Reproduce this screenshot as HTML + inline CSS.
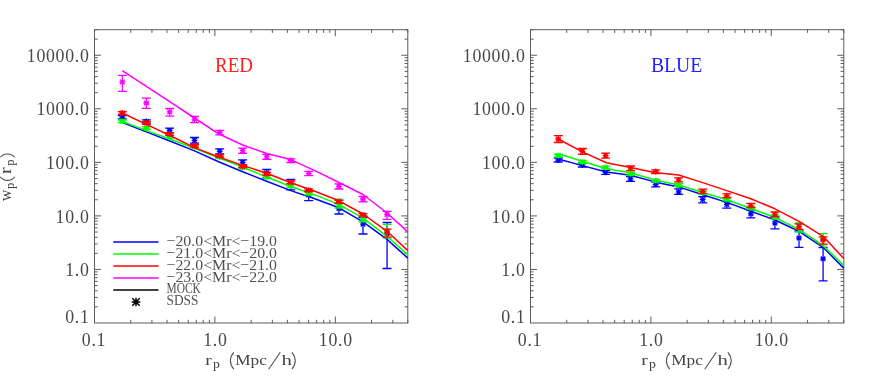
<!DOCTYPE html>
<html><head><meta charset="utf-8"><style>
html,body{margin:0;padding:0;background:#fff;}
svg{display:block;font-family:"Liberation Serif",serif;}
.tk{font-size:17.8px;fill:#484848;letter-spacing:0.7px;}
.ax{font-size:15.5px;fill:#444;}
.lg{font-size:15.5px;fill:#505050;}
.tt{font-size:20px;fill-opacity:0.88;}
</style></head><body>
<svg style="will-change:transform" width="872" height="383" viewBox="0 0 872 383">
<rect width="872" height="383" fill="#fff"/>
<rect x="94.50" y="29.70" width="313.29" height="293.30" fill="none" stroke="#5c5c5c" stroke-width="1"/>
<path d="M130.74 323.00v-3.2M130.74 29.70v3.2M151.95 323.00v-3.2M151.95 29.70v3.2M166.99 323.00v-3.2M166.99 29.70v3.2M178.66 323.00v-3.2M178.66 29.70v3.2M188.19 323.00v-3.2M188.19 29.70v3.2M196.25 323.00v-3.2M196.25 29.70v3.2M203.23 323.00v-3.2M203.23 29.70v3.2M209.39 323.00v-3.2M209.39 29.70v3.2M214.90 323.00v-6.5M214.90 29.70v6.5M251.14 323.00v-3.2M251.14 29.70v3.2M272.35 323.00v-3.2M272.35 29.70v3.2M287.39 323.00v-3.2M287.39 29.70v3.2M299.06 323.00v-3.2M299.06 29.70v3.2M308.59 323.00v-3.2M308.59 29.70v3.2M316.65 323.00v-3.2M316.65 29.70v3.2M323.63 323.00v-3.2M323.63 29.70v3.2M329.79 323.00v-3.2M329.79 29.70v3.2M335.30 323.00v-6.5M335.30 29.70v6.5M371.54 323.00v-3.2M371.54 29.70v3.2M392.75 323.00v-3.2M392.75 29.70v3.2M407.79 323.00v-3.2M407.79 29.70v3.2M94.50 306.88h3.2M407.79 306.88h-3.2M94.50 297.45h3.2M407.79 297.45h-3.2M94.50 290.76h3.2M407.79 290.76h-3.2M94.50 285.57h3.2M407.79 285.57h-3.2M94.50 281.33h3.2M407.79 281.33h-3.2M94.50 277.74h3.2M407.79 277.74h-3.2M94.50 274.64h3.2M407.79 274.64h-3.2M94.50 271.90h3.2M407.79 271.90h-3.2M94.50 269.45h6.5M407.79 269.45h-6.5M94.50 253.33h3.2M407.79 253.33h-3.2M94.50 243.90h3.2M407.79 243.90h-3.2M94.50 237.21h3.2M407.79 237.21h-3.2M94.50 232.02h3.2M407.79 232.02h-3.2M94.50 227.78h3.2M407.79 227.78h-3.2M94.50 224.19h3.2M407.79 224.19h-3.2M94.50 221.09h3.2M407.79 221.09h-3.2M94.50 218.35h3.2M407.79 218.35h-3.2M94.50 215.90h6.5M407.79 215.90h-6.5M94.50 199.78h3.2M407.79 199.78h-3.2M94.50 190.35h3.2M407.79 190.35h-3.2M94.50 183.66h3.2M407.79 183.66h-3.2M94.50 178.47h3.2M407.79 178.47h-3.2M94.50 174.23h3.2M407.79 174.23h-3.2M94.50 170.64h3.2M407.79 170.64h-3.2M94.50 167.54h3.2M407.79 167.54h-3.2M94.50 164.80h3.2M407.79 164.80h-3.2M94.50 162.35h6.5M407.79 162.35h-6.5M94.50 146.23h3.2M407.79 146.23h-3.2M94.50 136.80h3.2M407.79 136.80h-3.2M94.50 130.11h3.2M407.79 130.11h-3.2M94.50 124.92h3.2M407.79 124.92h-3.2M94.50 120.68h3.2M407.79 120.68h-3.2M94.50 117.09h3.2M407.79 117.09h-3.2M94.50 113.99h3.2M407.79 113.99h-3.2M94.50 111.25h3.2M407.79 111.25h-3.2M94.50 108.80h6.5M407.79 108.80h-6.5M94.50 92.68h3.2M407.79 92.68h-3.2M94.50 83.25h3.2M407.79 83.25h-3.2M94.50 76.56h3.2M407.79 76.56h-3.2M94.50 71.37h3.2M407.79 71.37h-3.2M94.50 67.13h3.2M407.79 67.13h-3.2M94.50 63.54h3.2M407.79 63.54h-3.2M94.50 60.44h3.2M407.79 60.44h-3.2M94.50 57.70h3.2M407.79 57.70h-3.2M94.50 55.25h6.5M407.79 55.25h-6.5M94.50 39.13h3.2M407.79 39.13h-3.2M94.50 29.70h3.2M407.79 29.70h-3.2" stroke="#5c5c5c" stroke-width="1" fill="none"/>
<text x="94.00" y="346" text-anchor="middle" class="tk">0.1</text>
<text x="215.40" y="346" text-anchor="middle" class="tk">1.0</text>
<text x="335.80" y="346" text-anchor="middle" class="tk">10.0</text>
<text x="89.50" y="323.30" text-anchor="end" class="tk">0.1</text>
<text x="89.50" y="276.05" text-anchor="end" class="tk">1.0</text>
<text x="89.50" y="222.50" text-anchor="end" class="tk">10.0</text>
<text x="89.50" y="168.95" text-anchor="end" class="tk">100.0</text>
<text x="89.50" y="115.40" text-anchor="end" class="tk">1000.0</text>
<text x="89.50" y="61.85" text-anchor="end" class="tk">10000.0</text>
<g class="ax" transform="translate(0 0)"><text x="205.3" y="364.7" textLength="6.5" lengthAdjust="spacingAndGlyphs">r</text><text x="213.0" y="368.2" font-size="12.2" textLength="6.9" lengthAdjust="spacingAndGlyphs">p</text><text x="235.2" y="364.7" textLength="31.6" lengthAdjust="spacingAndGlyphs">Mpc</text><text x="281.6" y="364.7" textLength="10.4" lengthAdjust="spacingAndGlyphs">h</text><path d="M233.7 352.3C229.3 357.5 229.3 364 233.7 369.2M291.9 352.3C296.3 357.5 296.3 364 291.9 369.2M268.7 369.2L280.3 352.2" stroke="#505050" stroke-width="1.1" fill="none"/></g>
<rect x="530.50" y="29.70" width="313.29" height="293.30" fill="none" stroke="#5c5c5c" stroke-width="1"/>
<path d="M566.74 323.00v-3.2M566.74 29.70v3.2M587.95 323.00v-3.2M587.95 29.70v3.2M602.99 323.00v-3.2M602.99 29.70v3.2M614.66 323.00v-3.2M614.66 29.70v3.2M624.19 323.00v-3.2M624.19 29.70v3.2M632.25 323.00v-3.2M632.25 29.70v3.2M639.23 323.00v-3.2M639.23 29.70v3.2M645.39 323.00v-3.2M645.39 29.70v3.2M650.90 323.00v-6.5M650.90 29.70v6.5M687.14 323.00v-3.2M687.14 29.70v3.2M708.35 323.00v-3.2M708.35 29.70v3.2M723.39 323.00v-3.2M723.39 29.70v3.2M735.06 323.00v-3.2M735.06 29.70v3.2M744.59 323.00v-3.2M744.59 29.70v3.2M752.65 323.00v-3.2M752.65 29.70v3.2M759.63 323.00v-3.2M759.63 29.70v3.2M765.79 323.00v-3.2M765.79 29.70v3.2M771.30 323.00v-6.5M771.30 29.70v6.5M807.54 323.00v-3.2M807.54 29.70v3.2M828.75 323.00v-3.2M828.75 29.70v3.2M843.79 323.00v-3.2M843.79 29.70v3.2M530.50 306.88h3.2M843.79 306.88h-3.2M530.50 297.45h3.2M843.79 297.45h-3.2M530.50 290.76h3.2M843.79 290.76h-3.2M530.50 285.57h3.2M843.79 285.57h-3.2M530.50 281.33h3.2M843.79 281.33h-3.2M530.50 277.74h3.2M843.79 277.74h-3.2M530.50 274.64h3.2M843.79 274.64h-3.2M530.50 271.90h3.2M843.79 271.90h-3.2M530.50 269.45h6.5M843.79 269.45h-6.5M530.50 253.33h3.2M843.79 253.33h-3.2M530.50 243.90h3.2M843.79 243.90h-3.2M530.50 237.21h3.2M843.79 237.21h-3.2M530.50 232.02h3.2M843.79 232.02h-3.2M530.50 227.78h3.2M843.79 227.78h-3.2M530.50 224.19h3.2M843.79 224.19h-3.2M530.50 221.09h3.2M843.79 221.09h-3.2M530.50 218.35h3.2M843.79 218.35h-3.2M530.50 215.90h6.5M843.79 215.90h-6.5M530.50 199.78h3.2M843.79 199.78h-3.2M530.50 190.35h3.2M843.79 190.35h-3.2M530.50 183.66h3.2M843.79 183.66h-3.2M530.50 178.47h3.2M843.79 178.47h-3.2M530.50 174.23h3.2M843.79 174.23h-3.2M530.50 170.64h3.2M843.79 170.64h-3.2M530.50 167.54h3.2M843.79 167.54h-3.2M530.50 164.80h3.2M843.79 164.80h-3.2M530.50 162.35h6.5M843.79 162.35h-6.5M530.50 146.23h3.2M843.79 146.23h-3.2M530.50 136.80h3.2M843.79 136.80h-3.2M530.50 130.11h3.2M843.79 130.11h-3.2M530.50 124.92h3.2M843.79 124.92h-3.2M530.50 120.68h3.2M843.79 120.68h-3.2M530.50 117.09h3.2M843.79 117.09h-3.2M530.50 113.99h3.2M843.79 113.99h-3.2M530.50 111.25h3.2M843.79 111.25h-3.2M530.50 108.80h6.5M843.79 108.80h-6.5M530.50 92.68h3.2M843.79 92.68h-3.2M530.50 83.25h3.2M843.79 83.25h-3.2M530.50 76.56h3.2M843.79 76.56h-3.2M530.50 71.37h3.2M843.79 71.37h-3.2M530.50 67.13h3.2M843.79 67.13h-3.2M530.50 63.54h3.2M843.79 63.54h-3.2M530.50 60.44h3.2M843.79 60.44h-3.2M530.50 57.70h3.2M843.79 57.70h-3.2M530.50 55.25h6.5M843.79 55.25h-6.5M530.50 39.13h3.2M843.79 39.13h-3.2M530.50 29.70h3.2M843.79 29.70h-3.2" stroke="#5c5c5c" stroke-width="1" fill="none"/>
<text x="530.00" y="346" text-anchor="middle" class="tk">0.1</text>
<text x="651.40" y="346" text-anchor="middle" class="tk">1.0</text>
<text x="771.80" y="346" text-anchor="middle" class="tk">10.0</text>
<text x="525.50" y="323.30" text-anchor="end" class="tk">0.1</text>
<text x="525.50" y="276.05" text-anchor="end" class="tk">1.0</text>
<text x="525.50" y="222.50" text-anchor="end" class="tk">10.0</text>
<text x="525.50" y="168.95" text-anchor="end" class="tk">100.0</text>
<text x="525.50" y="115.40" text-anchor="end" class="tk">1000.0</text>
<text x="525.50" y="61.85" text-anchor="end" class="tk">10000.0</text>
<g class="ax" transform="translate(436 0)"><text x="205.3" y="364.7" textLength="6.5" lengthAdjust="spacingAndGlyphs">r</text><text x="213.0" y="368.2" font-size="12.2" textLength="6.9" lengthAdjust="spacingAndGlyphs">p</text><text x="235.2" y="364.7" textLength="31.6" lengthAdjust="spacingAndGlyphs">Mpc</text><text x="281.6" y="364.7" textLength="10.4" lengthAdjust="spacingAndGlyphs">h</text><path d="M233.7 352.3C229.3 357.5 229.3 364 233.7 369.2M291.9 352.3C296.3 357.5 296.3 364 291.9 369.2M268.7 369.2L280.3 352.2" stroke="#505050" stroke-width="1.1" fill="none"/></g>
<path d="M122.30 122.50 L146.37 131.90 L170.44 141.30 L194.51 150.90 L218.58 161.80 L242.65 171.80 L266.72 181.20 L290.79 190.60 L314.86 198.80 L338.93 207.80 L363.00 221.90 L387.07 239.40 L407.79 258.10" stroke="#0000ff" stroke-width="1.5" fill="none" stroke-linejoin="round"/>
<path d="M122.30 115.70V118.80M117.80 115.70h9M117.80 118.80h9M119.40 117.20h5.8M122.30 114.30v5.8M120.00 114.90l4.6 4.6M120.00 119.50l4.6 -4.6M146.37 119.80V123.20M141.87 119.80h9M141.87 123.20h9M143.47 121.50h5.8M146.37 118.60v5.8M144.07 119.20l4.6 4.6M144.07 123.80l4.6 -4.6M169.64 128.20V132.80M165.14 128.20h9M165.14 132.80h9M166.74 130.50h5.8M169.64 127.60v5.8M167.34 128.20l4.6 4.6M167.34 132.80l4.6 -4.6M194.51 137.50V143.20M190.01 137.50h9M190.01 143.20h9M191.61 140.30h5.8M194.51 137.40v5.8M192.21 138.00l4.6 4.6M192.21 142.60l4.6 -4.6M219.68 148.80V154.00M215.18 148.80h9M215.18 154.00h9M216.78 151.30h5.8M219.68 148.40v5.8M217.38 149.00l4.6 4.6M217.38 153.60l4.6 -4.6M242.65 159.80V165.00M238.15 159.80h9M238.15 165.00h9M239.75 162.30h5.8M242.65 159.40v5.8M240.35 160.00l4.6 4.6M240.35 164.60l4.6 -4.6M266.72 169.50V178.00M262.22 169.50h9M262.22 178.00h9M263.82 173.00h5.8M266.72 170.10v5.8M264.42 170.70l4.6 4.6M264.42 175.30l4.6 -4.6M290.79 179.40V189.80M286.29 179.40h9M286.29 189.80h9M287.89 184.60h5.8M290.79 181.70v5.8M288.49 182.30l4.6 4.6M288.49 186.90l4.6 -4.6M308.70 191.00V200.60M304.20 191.00h9M304.20 200.60h9M305.80 195.00h5.8M308.70 192.10v5.8M306.40 192.70l4.6 4.6M306.40 197.30l4.6 -4.6M338.93 203.50V214.00M334.43 203.50h9M334.43 214.00h9M336.03 208.50h5.8M338.93 205.60v5.8M336.63 206.20l4.6 4.6M336.63 210.80l4.6 -4.6M363.00 217.50V234.00M358.50 217.50h9M358.50 234.00h9M360.10 224.20h5.8M363.00 221.30v5.8M360.70 221.90l4.6 4.6M360.70 226.50l4.6 -4.6M387.07 222.50V268.50M382.57 222.50h9M382.57 268.50h9M384.17 234.00h5.8M387.07 231.10v5.8M384.77 231.70l4.6 4.6M384.77 236.30l4.6 -4.6" stroke="#0000ff" stroke-width="1.3" fill="none"/>
<path d="M122.30 121.50 L146.37 130.60 L170.44 139.30 L194.51 148.20 L218.58 157.80 L242.65 167.10 L266.72 177.00 L290.79 186.50 L314.86 194.90 L338.93 204.40 L363.00 218.10 L387.07 236.30 L407.79 254.90" stroke="#00ff00" stroke-width="1.5" fill="none" stroke-linejoin="round"/>
<path d="M122.30 120.00V122.60M117.80 120.00h9M117.80 122.60h9M119.40 121.30h5.8M122.30 118.40v5.8M120.00 119.00l4.6 4.6M120.00 123.60l4.6 -4.6M146.37 126.70V129.30M141.87 126.70h9M141.87 129.30h9M143.47 128.00h5.8M146.37 125.10v5.8M144.07 125.70l4.6 4.6M144.07 130.30l4.6 -4.6M169.64 135.20V137.80M165.14 135.20h9M165.14 137.80h9M166.74 136.50h5.8M169.64 133.60v5.8M167.34 134.20l4.6 4.6M167.34 138.80l4.6 -4.6M194.51 145.20V147.80M190.01 145.20h9M190.01 147.80h9M191.61 146.50h5.8M194.51 143.60v5.8M192.21 144.20l4.6 4.6M192.21 148.80l4.6 -4.6M219.68 155.70V158.30M215.18 155.70h9M215.18 158.30h9M216.78 157.00h5.8M219.68 154.10v5.8M217.38 154.70l4.6 4.6M217.38 159.30l4.6 -4.6M242.65 166.20V168.80M238.15 166.20h9M238.15 168.80h9M239.75 167.50h5.8M242.65 164.60v5.8M240.35 165.20l4.6 4.6M240.35 169.80l4.6 -4.6M266.72 175.50V178.10M262.22 175.50h9M262.22 178.10h9M263.82 176.80h5.8M266.72 173.90v5.8M264.42 174.50l4.6 4.6M264.42 179.10l4.6 -4.6M290.79 184.70V187.30M286.29 184.70h9M286.29 187.30h9M287.89 186.00h5.8M290.79 183.10v5.8M288.49 183.70l4.6 4.6M288.49 188.30l4.6 -4.6M308.70 192.20V194.80M304.20 192.20h9M304.20 194.80h9M305.80 193.50h5.8M308.70 190.60v5.8M306.40 191.20l4.6 4.6M306.40 195.80l4.6 -4.6M338.93 199.20V208.00M334.43 199.20h9M334.43 208.00h9M336.03 204.50h5.8M338.93 201.60v5.8M336.63 202.20l4.6 4.6M336.63 206.80l4.6 -4.6M363.00 216.00V221.90M358.50 216.00h9M358.50 221.90h9M360.10 218.80h5.8M363.00 215.90v5.8M360.70 216.50l4.6 4.6M360.70 221.10l4.6 -4.6M387.07 224.40V237.80M382.57 224.40h9M382.57 237.80h9M384.17 231.00h5.8M387.07 228.10v5.8M384.77 228.70l4.6 4.6M384.77 233.30l4.6 -4.6" stroke="#00ff00" stroke-width="1.3" fill="none"/>
<path d="M122.30 113.00 L146.37 124.40 L170.44 135.80 L194.51 147.60 L218.58 157.00 L242.65 165.40 L266.72 173.30 L290.79 182.70 L314.86 191.20 L338.93 200.80 L363.00 214.00 L387.07 231.30 L407.79 250.60" stroke="#ff0000" stroke-width="1.5" fill="none" stroke-linejoin="round"/>
<path d="M122.30 111.70V114.30M117.80 111.70h9M117.80 114.30h9M119.40 113.00h5.8M122.30 110.10v5.8M120.00 110.70l4.6 4.6M120.00 115.30l4.6 -4.6M146.37 121.70V124.30M141.87 121.70h9M141.87 124.30h9M143.47 123.00h5.8M146.37 120.10v5.8M144.07 120.70l4.6 4.6M144.07 125.30l4.6 -4.6M169.64 132.70V135.30M165.14 132.70h9M165.14 135.30h9M166.74 134.00h5.8M169.64 131.10v5.8M167.34 131.70l4.6 4.6M167.34 136.30l4.6 -4.6M194.51 144.50V147.10M190.01 144.50h9M190.01 147.10h9M191.61 145.80h5.8M194.51 142.90v5.8M192.21 143.50l4.6 4.6M192.21 148.10l4.6 -4.6M219.68 154.40V157.00M215.18 154.40h9M215.18 157.00h9M216.78 155.70h5.8M219.68 152.80v5.8M217.38 153.40l4.6 4.6M217.38 158.00l4.6 -4.6M242.65 165.00V167.60M238.15 165.00h9M238.15 167.60h9M239.75 166.30h5.8M242.65 163.40v5.8M240.35 164.00l4.6 4.6M240.35 168.60l4.6 -4.6M266.72 172.50V175.10M262.22 172.50h9M262.22 175.10h9M263.82 173.80h5.8M266.72 170.90v5.8M264.42 171.50l4.6 4.6M264.42 176.10l4.6 -4.6M290.79 181.00V183.60M286.29 181.00h9M286.29 183.60h9M287.89 182.30h5.8M290.79 179.40v5.8M288.49 180.00l4.6 4.6M288.49 184.60l4.6 -4.6M308.70 188.90V191.50M304.20 188.90h9M304.20 191.50h9M305.80 190.20h5.8M308.70 187.30v5.8M306.40 187.90l4.6 4.6M306.40 192.50l4.6 -4.6M338.93 200.30V202.90M334.43 200.30h9M334.43 202.90h9M336.03 201.60h5.8M338.93 198.70v5.8M336.63 199.30l4.6 4.6M336.63 203.90l4.6 -4.6M363.00 213.60V216.20M358.50 213.60h9M358.50 216.20h9M360.10 214.90h5.8M363.00 212.00v5.8M360.70 212.60l4.6 4.6M360.70 217.20l4.6 -4.6M387.07 229.20V237.20M382.57 229.20h9M382.57 237.20h9M384.17 232.20h5.8M387.07 229.30v5.8M384.77 229.90l4.6 4.6M384.77 234.50l4.6 -4.6" stroke="#ff0000" stroke-width="1.3" fill="none"/>
<path d="M122.30 70.60 L146.37 86.40 L170.44 102.20 L194.51 118.00 L218.58 133.80 L242.65 145.00 L266.72 153.50 L290.79 159.60 L314.86 170.60 L338.93 182.50 L363.00 194.50 L387.07 213.00 L407.79 231.90" stroke="#ff00ff" stroke-width="1.5" fill="none" stroke-linejoin="round"/>
<path d="M122.30 75.30V91.30M117.80 75.30h9M117.80 91.30h9M119.40 81.90h5.8M122.30 79.00v5.8M120.00 79.60l4.6 4.6M120.00 84.20l4.6 -4.6M146.37 98.20V108.40M141.87 98.20h9M141.87 108.40h9M143.47 103.00h5.8M146.37 100.10v5.8M144.07 100.70l4.6 4.6M144.07 105.30l4.6 -4.6M169.70 108.50V116.10M165.20 108.50h9M165.20 116.10h9M166.80 111.90h5.8M169.70 109.00v5.8M167.40 109.60l4.6 4.6M167.40 114.20l4.6 -4.6M194.51 116.30V122.60M190.01 116.30h9M190.01 122.60h9M191.61 119.20h5.8M194.51 116.30v5.8M192.21 116.90l4.6 4.6M192.21 121.50l4.6 -4.6M219.68 130.40V134.80M215.18 130.40h9M215.18 134.80h9M216.78 132.50h5.8M219.68 129.60v5.8M217.38 130.20l4.6 4.6M217.38 134.80l4.6 -4.6M242.65 148.10V153.40M238.15 148.10h9M238.15 153.40h9M239.75 150.70h5.8M242.65 147.80v5.8M240.35 148.40l4.6 4.6M240.35 153.00l4.6 -4.6M266.72 154.30V159.40M262.22 154.30h9M262.22 159.40h9M263.82 156.80h5.8M266.72 153.90v5.8M264.42 154.50l4.6 4.6M264.42 159.10l4.6 -4.6M290.79 158.80V162.50M286.29 158.80h9M286.29 162.50h9M287.89 160.50h5.8M290.79 157.60v5.8M288.49 158.20l4.6 4.6M288.49 162.80l4.6 -4.6M308.70 171.30V175.60M304.20 171.30h9M304.20 175.60h9M305.80 173.40h5.8M308.70 170.50v5.8M306.40 171.10l4.6 4.6M306.40 175.70l4.6 -4.6M338.93 183.80V189.00M334.43 183.80h9M334.43 189.00h9M336.03 186.30h5.8M338.93 183.40v5.8M336.63 184.00l4.6 4.6M336.63 188.60l4.6 -4.6M363.00 196.30V201.90M358.50 196.30h9M358.50 201.90h9M360.10 199.00h5.8M363.00 196.10v5.8M360.70 196.70l4.6 4.6M360.70 201.30l4.6 -4.6M387.07 211.30V219.40M382.57 211.30h9M382.57 219.40h9M384.17 214.50h5.8M387.07 211.60v5.8M384.77 212.20l4.6 4.6M384.77 216.80l4.6 -4.6" stroke="#ff00ff" stroke-width="1.3" fill="none"/>
<path d="M558.30 159.00 L582.37 165.60 L606.44 171.90 L630.51 175.30 L654.58 181.90 L678.65 186.90 L702.72 194.70 L726.79 202.40 L750.86 211.30 L774.93 220.00 L799.00 231.30 L823.07 247.30 L843.79 268.10" stroke="#0000ff" stroke-width="1.5" fill="none" stroke-linejoin="round"/>
<path d="M558.30 158.00V162.00M553.80 158.00h9M553.80 162.00h9M555.40 160.00h5.8M558.30 157.10v5.8M556.00 157.70l4.6 4.6M556.00 162.30l4.6 -4.6M582.37 163.00V167.00M577.87 163.00h9M577.87 167.00h9M579.47 165.00h5.8M582.37 162.10v5.8M580.07 162.70l4.6 4.6M580.07 167.30l4.6 -4.6M605.64 170.30V174.30M601.14 170.30h9M601.14 174.30h9M602.74 172.30h5.8M605.64 169.40v5.8M603.34 170.00l4.6 4.6M603.34 174.60l4.6 -4.6M630.51 176.50V181.30M626.01 176.50h9M626.01 181.30h9M627.61 178.80h5.8M630.51 175.90v5.8M628.21 176.50l4.6 4.6M628.21 181.10l4.6 -4.6M655.68 182.00V186.90M651.18 182.00h9M651.18 186.90h9M652.78 184.40h5.8M655.68 181.50v5.8M653.38 182.10l4.6 4.6M653.38 186.70l4.6 -4.6M678.65 188.80V194.40M674.15 188.80h9M674.15 194.40h9M675.75 191.90h5.8M678.65 189.00v5.8M676.35 189.60l4.6 4.6M676.35 194.20l4.6 -4.6M702.72 196.70V202.80M698.22 196.70h9M698.22 202.80h9M699.82 199.40h5.8M702.72 196.50v5.8M700.42 197.10l4.6 4.6M700.42 201.70l4.6 -4.6M726.79 201.50V208.10M722.29 201.50h9M722.29 208.10h9M723.89 204.40h5.8M726.79 201.50v5.8M724.49 202.10l4.6 4.6M724.49 206.70l4.6 -4.6M750.86 210.00V217.90M746.36 210.00h9M746.36 217.90h9M747.96 213.80h5.8M750.86 210.90v5.8M748.56 211.50l4.6 4.6M748.56 216.10l4.6 -4.6M774.93 218.00V228.80M770.43 218.00h9M770.43 228.80h9M772.03 223.10h5.8M774.93 220.20v5.8M772.63 220.80l4.6 4.6M772.63 225.40l4.6 -4.6M799.00 231.00V247.30M794.50 231.00h9M794.50 247.30h9M796.10 238.10h5.8M799.00 235.20v5.8M796.70 235.80l4.6 4.6M796.70 240.40l4.6 -4.6M823.07 247.50V280.90M818.57 247.50h9M818.57 280.90h9M820.17 258.80h5.8M823.07 255.90v5.8M820.77 256.50l4.6 4.6M820.77 261.10l4.6 -4.6" stroke="#0000ff" stroke-width="1.3" fill="none"/>
<path d="M558.30 153.80 L582.37 161.30 L606.44 168.80 L630.51 172.80 L654.58 180.00 L678.65 185.00 L702.72 192.50 L726.79 199.70 L750.86 208.50 L774.93 217.50 L799.00 229.40 L823.07 245.60 L843.79 265.60" stroke="#00ff00" stroke-width="1.5" fill="none" stroke-linejoin="round"/>
<path d="M558.30 154.30V156.90M553.80 154.30h9M553.80 156.90h9M555.40 155.60h5.8M558.30 152.70v5.8M556.00 153.30l4.6 4.6M556.00 157.90l4.6 -4.6M582.37 160.60V163.20M577.87 160.60h9M577.87 163.20h9M579.47 161.90h5.8M582.37 159.00v5.8M580.07 159.60l4.6 4.6M580.07 164.20l4.6 -4.6M605.64 166.20V168.80M601.14 166.20h9M601.14 168.80h9M602.74 167.50h5.8M605.64 164.60v5.8M603.34 165.20l4.6 4.6M603.34 169.80l4.6 -4.6M630.51 172.50V175.10M626.01 172.50h9M626.01 175.10h9M627.61 173.80h5.8M630.51 170.90v5.8M628.21 171.50l4.6 4.6M628.21 176.10l4.6 -4.6M655.68 179.30V181.90M651.18 179.30h9M651.18 181.90h9M652.78 180.60h5.8M655.68 177.70v5.8M653.38 178.30l4.6 4.6M653.38 182.90l4.6 -4.6M678.65 183.70V186.30M674.15 183.70h9M674.15 186.30h9M675.75 185.00h5.8M678.65 182.10v5.8M676.35 182.70l4.6 4.6M676.35 187.30l4.6 -4.6M702.72 191.20V193.80M698.22 191.20h9M698.22 193.80h9M699.82 192.50h5.8M702.72 189.60v5.8M700.42 190.20l4.6 4.6M700.42 194.80l4.6 -4.6M726.79 198.10V200.70M722.29 198.10h9M722.29 200.70h9M723.89 199.40h5.8M726.79 196.50v5.8M724.49 197.10l4.6 4.6M724.49 201.70l4.6 -4.6M750.86 206.50V209.10M746.36 206.50h9M746.36 209.10h9M747.96 207.80h5.8M750.86 204.90v5.8M748.56 205.50l4.6 4.6M748.56 210.10l4.6 -4.6M774.93 215.00V219.00M770.43 215.00h9M770.43 219.00h9M772.03 217.00h5.8M774.93 214.10v5.8M772.63 214.70l4.6 4.6M772.63 219.30l4.6 -4.6M799.00 222.80V232.00M794.50 222.80h9M794.50 232.00h9M796.10 228.00h5.8M799.00 225.10v5.8M796.70 225.70l4.6 4.6M796.70 230.30l4.6 -4.6M823.07 233.70V244.70M818.57 233.70h9M818.57 244.70h9M820.17 238.50h5.8M823.07 235.60v5.8M820.77 236.20l4.6 4.6M820.77 240.80l4.6 -4.6" stroke="#00ff00" stroke-width="1.3" fill="none"/>
<path d="M558.30 139.00 L582.37 151.90 L606.44 162.80 L630.51 167.40 L654.58 172.50 L678.65 175.00 L702.72 182.60 L726.79 190.60 L750.86 198.80 L774.93 208.80 L799.00 221.30 L823.07 236.30 L843.79 258.50" stroke="#ff0000" stroke-width="1.5" fill="none" stroke-linejoin="round"/>
<path d="M558.30 135.60V142.50M553.80 135.60h9M553.80 142.50h9M555.40 139.00h5.8M558.30 136.10v5.8M556.00 136.70l4.6 4.6M556.00 141.30l4.6 -4.6M582.37 148.50V154.30M577.87 148.50h9M577.87 154.30h9M579.47 151.30h5.8M582.37 148.40v5.8M580.07 149.00l4.6 4.6M580.07 153.60l4.6 -4.6M605.64 153.10V158.10M601.14 153.10h9M601.14 158.10h9M602.74 155.60h5.8M605.64 152.70v5.8M603.34 153.30l4.6 4.6M603.34 157.90l4.6 -4.6M630.51 166.00V170.60M626.01 166.00h9M626.01 170.60h9M627.61 168.10h5.8M630.51 165.20v5.8M628.21 165.80l4.6 4.6M628.21 170.40l4.6 -4.6M655.68 169.80V173.50M651.18 169.80h9M651.18 173.50h9M652.78 171.50h5.8M655.68 168.60v5.8M653.38 169.20l4.6 4.6M653.38 173.80l4.6 -4.6M678.65 177.80V181.90M674.15 177.80h9M674.15 181.90h9M675.75 179.80h5.8M678.65 176.90v5.8M676.35 177.50l4.6 4.6M676.35 182.10l4.6 -4.6M702.72 189.20V193.40M698.22 189.20h9M698.22 193.40h9M699.82 191.30h5.8M702.72 188.40v5.8M700.42 189.00l4.6 4.6M700.42 193.60l4.6 -4.6M726.79 193.80V197.50M722.29 193.80h9M722.29 197.50h9M723.89 195.60h5.8M726.79 192.70v5.8M724.49 193.30l4.6 4.6M724.49 197.90l4.6 -4.6M750.86 203.50V207.70M746.36 203.50h9M746.36 207.70h9M747.96 205.60h5.8M750.86 202.70v5.8M748.56 203.30l4.6 4.6M748.56 207.90l4.6 -4.6M774.93 212.00V216.60M770.43 212.00h9M770.43 216.60h9M772.03 214.20h5.8M774.93 211.30v5.8M772.63 211.90l4.6 4.6M772.63 216.50l4.6 -4.6M799.00 223.80V229.40M794.50 223.80h9M794.50 229.40h9M796.10 226.30h5.8M799.00 223.40v5.8M796.70 224.00l4.6 4.6M796.70 228.60l4.6 -4.6M823.07 236.90V244.20M818.57 236.90h9M818.57 244.20h9M820.17 240.00h5.8M823.07 237.10v5.8M820.77 237.70l4.6 4.6M820.77 242.30l4.6 -4.6" stroke="#ff0000" stroke-width="1.3" fill="none"/>
<path d="M113.3 242H158.5" stroke="#0000ff" stroke-width="1.7"/>
<text x="166.5" y="245.6" class="lg" textLength="110.5" lengthAdjust="spacingAndGlyphs">−20.0&lt;Mr&lt;−19.0</text>
<path d="M113.3 254H158.5" stroke="#00ff00" stroke-width="1.7"/>
<text x="166.5" y="257.6" class="lg" textLength="110.5" lengthAdjust="spacingAndGlyphs">−21.0&lt;Mr&lt;−20.0</text>
<path d="M113.3 266H158.5" stroke="#ff0000" stroke-width="1.7"/>
<text x="166.5" y="269.6" class="lg" textLength="110.5" lengthAdjust="spacingAndGlyphs">−22.0&lt;Mr&lt;−21.0</text>
<path d="M113.3 278H158.5" stroke="#ff00ff" stroke-width="1.7"/>
<text x="166.5" y="281.6" class="lg" textLength="110.5" lengthAdjust="spacingAndGlyphs">−23.0&lt;Mr&lt;−22.0</text>
<path d="M113.3 290H158.5" stroke="#000" stroke-width="1.7"/>
<text x="166.5" y="293.4" class="lg" textLength="34.4" lengthAdjust="spacingAndGlyphs">MOCK</text>
<text x="166.5" y="305.4" class="lg" textLength="31.8" lengthAdjust="spacingAndGlyphs">SDSS</text>
<path d="M131.7 302h8.6M136 297.7v8.6M132.3 298.3l7.4 7.4M132.3 305.7l7.4 -7.4" stroke="#000" stroke-width="1.5" fill="none"/>
<text x="215" y="71.5" class="tt" fill="#ff0000" textLength="38" lengthAdjust="spacingAndGlyphs">RED</text>
<text x="651" y="71.5" class="tt" fill="#0000ff" textLength="51.3" lengthAdjust="spacingAndGlyphs">BLUE</text>
<g transform="translate(10.8 201) rotate(-90)" class="ax"><text x="-0.2" y="0" font-size="17" textLength="11.6" lengthAdjust="spacingAndGlyphs">w</text><text x="12.0" y="3" font-size="12.5" textLength="6.3" lengthAdjust="spacingAndGlyphs">p</text><text x="27.0" y="0" font-size="17" textLength="6.6" lengthAdjust="spacingAndGlyphs">r</text><text x="35.3" y="3" font-size="12.5" textLength="6.3" lengthAdjust="spacingAndGlyphs">p</text></g>
<path d="M0.3 176.7C3.5 181.6 11.5 181.6 14.7 176.7M0.3 157.3C3.5 152.8 11.5 152.8 14.7 157.3" stroke="#505050" stroke-width="1.1" fill="none"/>
</svg>
</body></html>
